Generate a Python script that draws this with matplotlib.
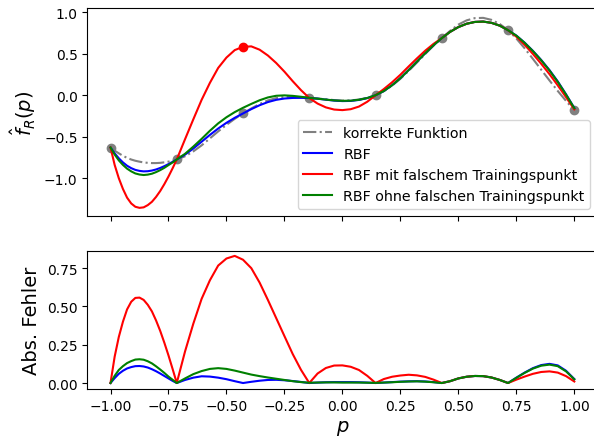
import matplotlib
matplotlib.use("Agg")
import matplotlib.pyplot as plt

# Evaluation grid in p (step 1/28, 1/56 on the first interval; training nodes included)
p = [-1.0, -0.9821, -0.9643, -0.9464, -0.9286, -0.9107, -0.8929, -0.875, -0.8571,
     -0.8393, -0.8214, -0.8036, -0.7857, -0.7679, -0.75, -0.7321, -0.7143,
     -0.6786, -0.6429, -0.6071, -0.5714, -0.5357, -0.5, -0.4643, -0.4286,
     -0.3929, -0.3571, -0.3214, -0.2857, -0.25, -0.2143, -0.1786, -0.1429,
     -0.1071, -0.0714, -0.0357, 0.0, 0.0357, 0.0714, 0.1071, 0.1429,
     0.1786, 0.2143, 0.25, 0.2857, 0.3214, 0.3571, 0.3929, 0.4286,
     0.4643, 0.5, 0.5357, 0.5714, 0.6071, 0.6429, 0.6786, 0.7143,
     0.75, 0.7857, 0.8214, 0.8571, 0.8929, 0.9286, 0.9643, 1.0]

f_true = [-0.63, -0.668, -0.70, -0.73, -0.755, -0.775, -0.79, -0.801, -0.81,
          -0.815, -0.818, -0.818, -0.815, -0.809, -0.80, -0.789, -0.774,
          -0.736, -0.677, -0.604, -0.52, -0.436, -0.357, -0.284, -0.219,
          -0.159, -0.105, -0.062, -0.034, -0.021, -0.019, -0.024, -0.033,
          -0.038, -0.048, -0.058, -0.064, -0.062, -0.051, -0.031, 0.0,
          0.049, 0.116, 0.199, 0.294, 0.395, 0.498, 0.598, 0.69,
          0.777, 0.853, 0.904, 0.931, 0.934, 0.91, 0.86, 0.785,
          0.685, 0.567, 0.439, 0.309, 0.179, 0.052, -0.068, -0.18]

f_rbf = [-0.63, -0.70, -0.76, -0.81, -0.85, -0.879, -0.90, -0.912, -0.918,
         -0.916, -0.908, -0.895, -0.877, -0.855, -0.83, -0.803, -0.774,
         -0.716, -0.642, -0.56, -0.478, -0.401, -0.332, -0.272, -0.219,
         -0.167, -0.12, -0.082, -0.055, -0.039, -0.032, -0.031, -0.033,
         -0.041, -0.053, -0.064, -0.07, -0.068, -0.056, -0.034, 0.0,
         0.052, 0.122, 0.208, 0.305, 0.407, 0.508, 0.604, 0.69,
         0.765, 0.823, 0.863, 0.885, 0.889, 0.874, 0.84, 0.785,
         0.72, 0.635, 0.536, 0.426, 0.304, 0.167, 0.012, -0.154]

f_rbf_wrong = [-0.63, -0.84, -1.0, -1.13, -1.235, -1.305, -1.345, -1.358, -1.352,
               -1.325, -1.285, -1.226, -1.155, -1.072, -0.98, -0.88, -0.774,
               -0.53, -0.29, -0.055, 0.15, 0.33, 0.455, 0.545, 0.585,
               0.59, 0.55, 0.48, 0.39, 0.285, 0.17, 0.062, -0.033,
               -0.1, -0.146, -0.172, -0.179, -0.168, -0.136, -0.078, 0.0,
               0.075, 0.157, 0.248, 0.348, 0.445, 0.538, 0.62, 0.69,
               0.765, 0.823, 0.863, 0.885, 0.889, 0.874, 0.84, 0.785,
               0.707, 0.609, 0.499, 0.381, 0.255, 0.12, -0.023, -0.17]

f_rbf_without = [-0.63, -0.715, -0.785, -0.84, -0.885, -0.918, -0.943, -0.956, -0.962,
                 -0.957, -0.946, -0.927, -0.903, -0.875, -0.842, -0.81, -0.774,
                 -0.706, -0.619, -0.526, -0.428, -0.339, -0.265, -0.203, -0.151,
                 -0.104, -0.06, -0.026, -0.006, -0.001, -0.007, -0.018, -0.031,
                 -0.041, -0.052, -0.062, -0.067, -0.065, -0.054, -0.033, 0.001,
                 0.052, 0.121, 0.207, 0.304, 0.406, 0.507, 0.603, 0.69,
                 0.765, 0.823, 0.863, 0.885, 0.889, 0.874, 0.84, 0.785,
                 0.719, 0.633, 0.533, 0.422, 0.299, 0.162, 0.008, -0.156]

err_rbf = [0.0, 0.032, 0.06, 0.08, 0.095, 0.104, 0.11, 0.111, 0.108,
           0.101, 0.09, 0.077, 0.062, 0.046, 0.03, 0.014, 0.0,
           0.02, 0.035, 0.044, 0.042, 0.035, 0.025, 0.012, 0.0,
           0.008, 0.015, 0.02, 0.021, 0.018, 0.013, 0.007, 0.0,
           0.003, 0.005, 0.006, 0.006, 0.006, 0.005, 0.003, 0.0,
           0.003, 0.006, 0.009, 0.011, 0.012, 0.01, 0.006, 0.0,
           0.012, 0.03, 0.041, 0.046, 0.045, 0.036, 0.02, 0.0,
           0.035, 0.068, 0.097, 0.117, 0.125, 0.115, 0.08, 0.026]

err_rbf_wrong = [0.0, 0.172, 0.30, 0.40, 0.48, 0.53, 0.555, 0.557, 0.542,
                 0.51, 0.467, 0.408, 0.34, 0.263, 0.18, 0.091, 0.0,
                 0.206, 0.387, 0.549, 0.67, 0.766, 0.812, 0.829, 0.804,
                 0.749, 0.655, 0.542, 0.424, 0.306, 0.189, 0.086, 0.0,
                 0.062, 0.098, 0.114, 0.115, 0.106, 0.085, 0.047, 0.0,
                 0.026, 0.041, 0.049, 0.054, 0.05, 0.04, 0.022, 0.0,
                 0.012, 0.03, 0.041, 0.046, 0.045, 0.036, 0.02, 0.0,
                 0.022, 0.042, 0.06, 0.072, 0.076, 0.068, 0.045, 0.01]

err_rbf_without = [0.0, 0.047, 0.085, 0.11, 0.13, 0.143, 0.153, 0.155, 0.152,
                   0.142, 0.128, 0.109, 0.088, 0.066, 0.042, 0.021, 0.0,
                   0.03, 0.058, 0.078, 0.092, 0.097, 0.092, 0.081, 0.068,
                   0.055, 0.045, 0.036, 0.028, 0.02, 0.012, 0.006, 0.002,
                   0.003, 0.004, 0.004, 0.003, 0.003, 0.003, 0.002, 0.001,
                   0.003, 0.005, 0.008, 0.01, 0.011, 0.009, 0.005, 0.0,
                   0.012, 0.03, 0.041, 0.046, 0.045, 0.036, 0.02, 0.0,
                   0.034, 0.066, 0.094, 0.113, 0.12, 0.11, 0.076, 0.024]

# Training data
p_train = [-1.0, -0.7143, -0.4286, -0.1429, 0.1429, 0.4286, 0.7143, 1.0]
f_train = [-0.63, -0.774, -0.219, -0.033, 0.0, 0.69, 0.785, -0.18]
p_wrong = [-0.4286]
f_wrong = [0.585]

fig = plt.figure(figsize=(5.94, 4.39), dpi=100)
ax1 = fig.add_axes([0.1470, 0.5050, 0.8589, 0.4745])
ax2 = fig.add_axes([0.1470, 0.1116, 0.8589, 0.3144], sharex=ax1)

ax1.plot(p_train, f_train, 'o', color='gray')
ax1.plot(p, f_true, '-.', color='gray', lw=1.5, label='korrekte Funktion')
ax1.plot(p, f_rbf, color='b', lw=1.5, label='RBF')
ax1.plot(p_wrong, f_wrong, 'o', color='r')
ax1.plot(p, f_rbf_wrong, color='r', lw=1.5, label='RBF mit falschem Trainingspunkt')
ax1.plot(p, f_rbf_without, color='g', lw=1.5, label='RBF ohne falschen Trainingspunkt')
ax1.set_ylabel(r'$\hat{f}_R(p)$', fontsize=14)
ax1.legend(loc='lower right', fontsize=10.3)
ax1.set_ylim(-1.46, 1.053)
ax1.set_yticks([-1.0, -0.5, 0.0, 0.5, 1.0])
ax1.tick_params(labelbottom=False)

ax2.plot(p, err_rbf, color='b', lw=1.5)
ax2.plot(p, err_rbf_wrong, color='r', lw=1.5)
ax2.plot(p, err_rbf_without, color='g', lw=1.5)
ax2.set_ylabel('Abs. Fehler', fontsize=14)
ax2.set_xlabel(r'$p$', fontsize=14)
ax2.set_ylim(-0.039, 0.861)
ax2.set_yticks([0.0, 0.25, 0.5, 0.75])
ax2.set_xlim(-1.1, 1.1)
ax2.set_xticks([-1.0, -0.75, -0.5, -0.25, 0.0, 0.25, 0.5, 0.75, 1.0])

fig.savefig('out.png', dpi=100)
